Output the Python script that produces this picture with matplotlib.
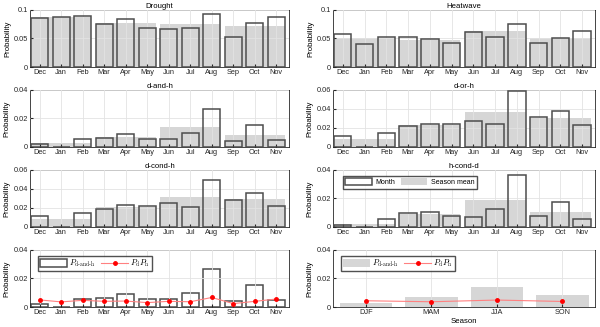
import numpy as np
import matplotlib
matplotlib.use("Agg")
import matplotlib.pyplot as plt
from matplotlib.patches import Patch
from matplotlib.lines import Line2D

plt.rcParams["font.family"] = ["Liberation Sans", "DejaVu Sans"]
plt.rcParams["mathtext.fontset"] = "cm"

months = ["Dec", "Jan", "Feb", "Mar", "Apr", "May", "Jun", "Jul", "Aug", "Sep", "Oct", "Nov"]
seasons = ["DJF", "MAM", "JJA", "SON"]

# monthly probabilities (Dec..Nov)
drought = [0.0853, 0.0876, 0.0894, 0.0753, 0.0847, 0.0682, 0.0665, 0.0676, 0.0929, 0.0518, 0.0765, 0.0871]
heatwave = [0.0582, 0.0394, 0.0529, 0.0524, 0.0488, 0.0424, 0.0606, 0.0529, 0.0747, 0.0424, 0.0500, 0.0624]
d_and_h = [0.0021, 0.0000, 0.0056, 0.0066, 0.0092, 0.0056, 0.0059, 0.0101, 0.0266, 0.0042, 0.0155, 0.0049]
d_or_h = [0.0113, 0.0000, 0.0148, 0.0222, 0.0240, 0.0244, 0.0268, 0.0240, 0.0590, 0.0318, 0.0381, 0.0229]
d_cond_h = [0.0116, 0.0000, 0.0148, 0.0190, 0.0226, 0.0222, 0.0254, 0.0212, 0.0487, 0.0286, 0.0356, 0.0222]
h_cond_d = [0.0016, 0.0000, 0.0052, 0.0094, 0.0101, 0.0073, 0.0071, 0.0127, 0.0360, 0.0075, 0.0176, 0.0056]
pd_ph = [0.0050, 0.0036, 0.0047, 0.0040, 0.0042, 0.0031, 0.0040, 0.0037, 0.0067, 0.0024, 0.0040, 0.0056]

# season means (DJF, MAM, JJA, SON)
drought_s = [0.0874, 0.0761, 0.0757, 0.0718]
heatwave_s = [0.0502, 0.0479, 0.0627, 0.0516]
d_and_h_s = [0.0026, 0.0071, 0.0142, 0.0082]
d_or_h_s = [0.0087, 0.0235, 0.0366, 0.0309]
d_cond_h_s = [0.0088, 0.0213, 0.0318, 0.0288]
h_cond_d_s = [0.0023, 0.0089, 0.0186, 0.0102]
pd_ph_s = [0.0044, 0.0037, 0.0049, 0.0039]

gray = "#d6d6d6"
edge = "#4d4d4d"
fs = 5.3

fig = plt.figure(figsize=(6.0, 3.27), dpi=100)
lefts = [0.05, 0.555]
widths = [0.432, 0.437]
bottoms = [0.795, 0.5505, 0.306, 0.061]
h = 0.175


def style(ax, ylim, yticks, ytl):
    ax.set_ylim(0, ylim)
    ax.set_yticks(yticks)
    ax.set_yticklabels(ytl)
    ax.tick_params(labelsize=fs, length=2, direction="in", colors="#262626", pad=1.5)
    ax.grid(True, color="#e3e3e3", linewidth=0.6)
    ax.set_axisbelow(False)
    for s in ax.spines.values():
        s.set_color("#262626")
        s.set_linewidth(0.6)
    ax.set_ylabel("Probability", fontsize=fs + 0.3, labelpad=2)


def month_panel(ax, vals, svals, title, ylim, yticks, ytl):
    x = np.arange(12)
    ax.bar(np.arange(1, 12, 3), svals, width=2.8, color=gray, zorder=1)
    ax.bar(x, vals, width=0.8, facecolor="none", edgecolor=edge, linewidth=1.1, zorder=3)
    ax.set_xticks(x)
    ax.set_xticklabels(months)
    ax.set_xlim(-0.45, 11.6)
    style(ax, ylim, yticks, ytl)
    if title:
        ax.set_title(title, fontsize=fs + 0.3, pad=1.5)


panels = [
    (0, 0, drought, drought_s, "Drought", 0.1, [0, 0.05, 0.1], ["0", "0.05", "0.1"]),
    (0, 1, heatwave, heatwave_s, "Heatwave", 0.1, [0, 0.05, 0.1], ["0", "0.05", "0.1"]),
    (1, 0, d_and_h, d_and_h_s, "d-and-h", 0.04, [0, 0.02, 0.04], ["0", "0.02", "0.04"]),
    (1, 1, d_or_h, d_or_h_s, "d-or-h", 0.06, [0, 0.02, 0.04, 0.06], ["0", "0.02", "0.04", "0.06"]),
    (2, 0, d_cond_h, d_cond_h_s, "d-cond-h", 0.06, [0, 0.02, 0.04, 0.06], ["0", "0.02", "0.04", "0.06"]),
    (2, 1, h_cond_d, h_cond_d_s, "h-cond-d", 0.04, [0, 0.02, 0.04], ["0", "0.02", "0.04"]),
]

for r, c, vals, svals, title, ylim, yt, ytl in panels:
    ax = fig.add_axes([lefts[c], bottoms[r], widths[c], h])
    month_panel(ax, vals, svals, title, ylim, yt, ytl)
    if title == "h-cond-d":
        handles = [Patch(facecolor="white", edgecolor=edge, linewidth=1.1),
                   Patch(facecolor=gray, edgecolor="none")]
        ax.legend(handles, ["Month", "Season mean"], loc="upper left", ncol=2, fontsize=5,
                  frameon=True, fancybox=False, edgecolor="#262626", handlelength=3.8,
                  handleheight=1.1, borderpad=0.35, columnspacing=0.8, handletextpad=0.5,
                  bbox_to_anchor=(0.025, 0.95))

lab_and = r"$P_{\mathrm{d\text{-}and\text{-}h}}$"
lab_prod = r"$P_{\mathrm{d}}P_{\mathrm{h}}$"
leg_kw = dict(loc="upper left", ncol=2, fontsize=6, frameon=True, fancybox=False,
              edgecolor="#262626", handlelength=3.2, handleheight=1.0, borderpad=0.25,
              columnspacing=0.6, handletextpad=0.3, bbox_to_anchor=(0.015, 0.97))

# bottom left: monthly d-and-h vs product
ax = fig.add_axes([lefts[0], bottoms[3], widths[0], h])
x = np.arange(12)
ax.bar(x, d_and_h, width=0.8, facecolor="white", edgecolor=edge, linewidth=1.1, zorder=2)
ax.plot(x, pd_ph, color="#ff8080", linewidth=0.8, marker="o", markersize=2.5,
        markerfacecolor="red", markeredgecolor="red", zorder=4)
ax.set_xticks(x)
ax.set_xticklabels(months)
ax.set_xlim(-0.45, 11.6)
style(ax, 0.04, [0, 0.02, 0.04], ["0", "0.02", "0.04"])
handles = [Patch(facecolor="white", edgecolor=edge, linewidth=1.1),
           Line2D([], [], color="#ff8080", lw=0.8, marker="o", ms=2.5, mfc="red", mec="red")]
ax.legend(handles, [lab_and, lab_prod], **leg_kw)

# bottom right: seasonal
ax = fig.add_axes([lefts[1], bottoms[3], widths[1], h])
xs = np.arange(1, 5)
ax.bar(xs, d_and_h_s, width=0.8, color=gray, zorder=1)
ax.plot(xs, pd_ph_s, color="#ff8080", linewidth=0.8, marker="o", markersize=2.5,
        markerfacecolor="red", markeredgecolor="red", zorder=4)
ax.set_xticks(xs)
ax.set_xticklabels(seasons)
ax.set_xlim(0.5, 4.5)
style(ax, 0.04, [0, 0.02, 0.04], ["0", "0.02", "0.04"])
ax.set_xlabel("Season", fontsize=fs + 0.3, labelpad=1)
handles = [Patch(facecolor=gray, edgecolor="none"),
           Line2D([], [], color="#ff8080", lw=0.8, marker="o", ms=2.5, mfc="red", mec="red")]
ax.legend(handles, [lab_and, lab_prod], **leg_kw)

fig.savefig("out.png", dpi=100)
